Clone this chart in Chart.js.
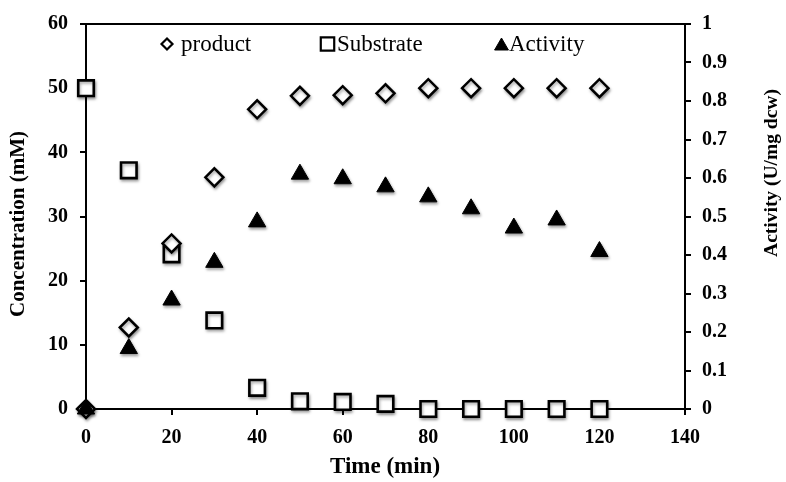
<!DOCTYPE html>
<html>
<head>
<meta charset="utf-8">
<script src="https://cdn.jsdelivr.net/npm/chart.js@4/dist/chart.umd.min.js"></script>
<style>
  html, body { margin: 0; padding: 0; background: #fff; }
  canvas { display: block; }
</style>
</head>
<body>
<canvas id="c" width="786" height="482"></canvas>
<script>
// ---- data ----
const times = [0, 10, 20, 30, 40, 50, 60, 70, 80, 90, 100, 110, 120];
const product = [0, 12.7, 25.8, 36.1, 46.7, 48.8, 48.9, 49.2, 50, 50, 50, 50, 50];
const substrate = [50, 37.2, 24.1, 13.8, 3.3, 1.2, 1.1, 0.8, 0, 0, 0, 0, 0];
const activity = [0, 0.157, 0.283, 0.381, 0.486, 0.610, 0.598, 0.577, 0.551, 0.520, 0.470, 0.491, 0.409];
const seriesNames = ['product', 'Substrate', 'Activity'];
const xTitle = 'Time (min)';
const yTitle = 'Concentration (mM)';
const y2Title = 'Activity (U/mg dcw)';

const toPts = (ys) => times.map((t, i) => ({ x: t, y: ys[i] }));
const SERIF = '"Liberation Serif", "Times New Roman", serif';

const shadowPlugin = {
  id: 'shadow',
  beforeDatasetsDraw(chart) {
    const c = chart.ctx;
    c.save();
    c.shadowColor = 'rgba(0,0,0,0.35)';
    c.shadowBlur = 3;
    c.shadowOffsetX = 1;
    c.shadowOffsetY = 2;
  },
  afterDatasetsDraw(chart) { chart.ctx.restore(); }
};

const decorPlugin = {
  id: 'decor',
  afterDraw(chart) {
    const c = chart.ctx;
    const a = chart.chartArea;
    c.save();
    // top frame line
    c.strokeStyle = '#000';
    c.lineWidth = 2;
    c.beginPath();
    c.moveTo(a.left - 6, a.top);
    c.lineTo(a.right + 6, a.top);
    c.stroke();

    // axis titles
    c.fillStyle = '#000';
    c.textAlign = 'center';
    c.textBaseline = 'middle';
    c.font = 'bold 23px ' + SERIF;
    c.fillText(xTitle, 385, 467);

    c.save();
    c.translate(19, 224);
    c.rotate(-Math.PI / 2);
    c.font = 'bold 21px ' + SERIF;
    c.fillText(yTitle, 0, 0);
    c.restore();

    c.save();
    c.translate(772, 173);
    c.rotate(-Math.PI / 2);
    c.font = 'bold 19.5px ' + SERIF;
    c.fillText(y2Title, 0, 0);
    c.restore();

    // legend inside plot
    const items = [
      { ds: 0, mx: 167, tx: 181, r: 5.5 },
      { ds: 1, mx: 327.5, tx: 337, r: 9.5 },
      { ds: 2, mx: 501.5, tx: 509, r: 8 }
    ];
    const ly = 44;
    c.font = '23px ' + SERIF;
    c.textAlign = 'left';
    c.textBaseline = 'middle';
    items.forEach(it => {
      const ds = chart.data.datasets[it.ds];
      c.save();
      c.fillStyle = ds.pointBackgroundColor;
      c.strokeStyle = ds.pointBorderColor;
      c.lineWidth = it.ds === 2 ? 1 : 2.2;
      Chart.helpers.drawPoint(c, { pointStyle: ds.pointStyle, radius: it.r, rotation: 0, borderWidth: c.lineWidth },
        it.mx, it.ds === 2 ? ly + 2 : ly);
      c.restore();
      c.fillStyle = '#000';
      c.fillText(seriesNames[it.ds], it.tx, ly + 1);
    });
    c.restore();
  }
};

const tickFont = { family: SERIF, size: 20, weight: 'bold' };

new Chart(document.getElementById('c'), {
  type: 'scatter',
  data: {
    datasets: [
      {
        label: seriesNames[0], data: toPts(product), yAxisID: 'y', order: 1,
        pointStyle: 'rectRot', pointRadius: 9, pointHoverRadius: 9,
        pointBackgroundColor: '#fff', pointBorderColor: '#000', pointBorderWidth: 2.5,
        showLine: false, clip: false
      },
      {
        label: seriesNames[1], data: toPts(substrate), yAxisID: 'y', order: 2,
        pointStyle: 'rect', pointRadius: 11, pointHoverRadius: 11,
        pointBackgroundColor: '#fff', pointBorderColor: '#000', pointBorderWidth: 2.6,
        showLine: false, clip: false
      },
      {
        label: seriesNames[2], data: toPts(activity), yAxisID: 'y2', order: 0,
        pointStyle: 'triangle', pointRadius: 10, pointHoverRadius: 10,
        pointBackgroundColor: '#000', pointBorderColor: '#000', pointBorderWidth: 1,
        showLine: false, clip: false
      }
    ]
  },
  options: {
    responsive: false,
    animation: false,
    devicePixelRatio: 1,
    layout: { padding: { top: 13, left: 0, right: 0, bottom: 0 } },
    plugins: { legend: { display: false }, tooltip: { enabled: false } },
    events: [],
    scales: {
      x: {
        type: 'linear', position: 'bottom', min: 0, max: 140,
        ticks: { stepSize: 20, color: '#000', font: tickFont, padding: 11, maxRotation: 0 },
        grid: { drawOnChartArea: false, drawTicks: true, tickLength: 6, color: '#000', lineWidth: 2 },
        border: { display: true, color: '#000', width: 2 },
        title: { display: false },
        afterFit(s) { s.height = 73; }
      },
      y: {
        type: 'linear', position: 'left', min: 0, max: 60,
        ticks: { stepSize: 10, color: '#000', font: tickFont, padding: 12 },
        grid: { drawOnChartArea: false, drawTicks: true, tickLength: 6, color: '#000', lineWidth: 2 },
        border: { display: true, color: '#000', width: 2 },
        title: { display: false },
        afterFit(s) { s.width = 86; }
      },
      y2: {
        type: 'linear', position: 'right', min: 0, max: 1,
        ticks: { stepSize: 0.1, color: '#000', font: tickFont, padding: 11,
          callback: (v) => String(+Number(v).toFixed(1)) },
        grid: { drawOnChartArea: false, drawTicks: true, tickLength: 6, color: '#000', lineWidth: 2 },
        border: { display: true, color: '#000', width: 2 },
        title: { display: false },
        afterFit(s) { s.width = 101; }
      }
    }
  },
  plugins: [shadowPlugin, decorPlugin]
});
</script>
</body>
</html>
